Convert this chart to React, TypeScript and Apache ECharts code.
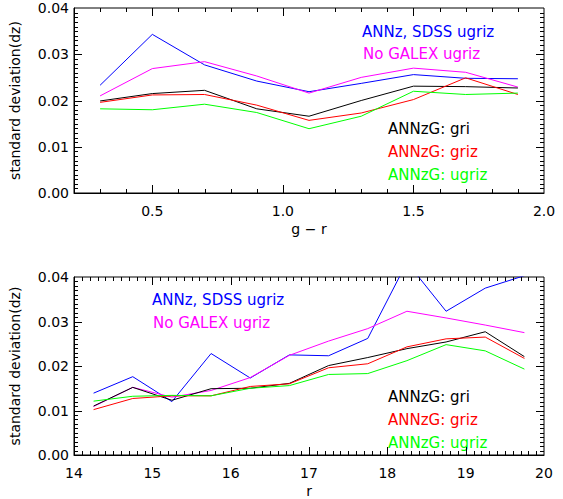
import React, { useEffect, useRef } from "react";
import * as echarts from "echarts";

// ---- Data ----
const grX = [0.3, 0.5, 0.7, 0.9, 1.1, 1.3, 1.5, 1.7, 1.9];
const grSdss = [0.0233, 0.0343, 0.0277, 0.0242, 0.0219, 0.0237, 0.0256, 0.0248, 0.0247];
const grNoGalex = [0.021, 0.0269, 0.0284, 0.0253, 0.0216, 0.025, 0.027, 0.0261, 0.0229];
const grGri = [0.0199, 0.0215, 0.0222, 0.0182, 0.0166, 0.02, 0.0231, 0.023, 0.0227];
const grGriz = [0.0196, 0.0212, 0.0213, 0.019, 0.0157, 0.0173, 0.0202, 0.0249, 0.0213];
const grUgriz = [0.0182, 0.018, 0.0192, 0.0174, 0.0139, 0.0166, 0.022, 0.0213, 0.0216];

const rX = [14.25, 14.75, 15.25, 15.75, 16.25, 16.75, 17.25, 17.75, 18.25, 18.75, 19.25, 19.75];
const rSdss = [0.0139, 0.0176, 0.012, 0.0228, 0.0173, 0.0225, 0.0223, 0.0262, 0.0433, 0.0323, 0.0375, 0.0403];
const rNoGalex = [0.0109, 0.0152, 0.013, 0.0145, 0.0174, 0.0224, 0.0256, 0.0284, 0.0323, 0.0308, 0.0292, 0.0275];
const rGri = [0.011, 0.0152, 0.0123, 0.0149, 0.015, 0.0161, 0.0201, 0.0219, 0.0239, 0.0254, 0.0277, 0.0221];
const rGriz = [0.0102, 0.0127, 0.0133, 0.0133, 0.0154, 0.016, 0.0196, 0.0205, 0.0243, 0.0261, 0.0265, 0.0217];
const rUgriz = [0.0121, 0.0132, 0.0134, 0.0133, 0.015, 0.0156, 0.0181, 0.0183, 0.0212, 0.0248, 0.0234, 0.0193];

const seriesNames = ["ANNz, SDSS ugriz", "No GALEX ugriz", "ANNzG: gri", "ANNzG: griz", "ANNzG: ugriz"];
const seriesColors = ["#0000ff", "#ff00ff", "#000000", "#ff0000", "#00ff00"];
const yTitle = "standard deviation(dz)";
const xTitles = ["g \u2212 r", "r"];

// axis ranges and tick steps: [min, max, minorStep, majorEvery]
const grAxis = [0.2, 2.0, 0.1, 5];
const rAxis = [14, 20, 0.1, 10];
const yRange = [0, 0.04, 0.001, 10];

const FONT = "DejaVu Sans";
const GRID_LEFT = 74;
const GRID_RIGHT = 19;
const GRID_H = 185;
const GRID_TOPS = [8, 277];
const W = 563;
const H = 499;

function makeTicks(spec: number[], major: boolean) {
  const [min, max, step, every] = spec;
  const n0 = Math.ceil(min / step - 1e-9);
  const n1 = Math.floor(max / step + 1e-9);
  const out: number[] = [];
  for (let k = n0; k <= n1; k++) {
    const v = +(k * step).toFixed(6);
    if (v <= min + 1e-9 || v >= max - 1e-9) continue;
    if ((k % every === 0) === major) out.push(v);
  }
  return out;
}

export default function App() {
  const ref = useRef<HTMLDivElement>(null);
  useEffect(() => {
    if (!ref.current) return;
    const chart = echarts.init(ref.current, null, { renderer: "svg" });

    const txtStyle = { fontSize: 14, fontFamily: FONT, color: "#000" };
    const grFmt = (v: number) => (Math.abs(v * 2 - Math.round(v * 2)) < 1e-6 ? v.toFixed(1) : "");
    const rFmt = (v: number) => String(v);
    const yFmt = (v: number) => v.toFixed(2);

    const baseAxis = (gridIndex: number, position: string, extra: any, formatter: any, name: string, nameGap: number, margin: number) => ({
      type: "value",
      gridIndex,
      position,
      ...extra,
      axisLine: { show: true, lineStyle: { color: "#000", width: 1 } },
      splitLine: { show: false },
      axisTick: { show: false },
      minorTick: { show: false },
      axisLabel: { show: true, margin, ...txtStyle, formatter },
      name,
      nameLocation: "middle",
      nameGap,
      nameTextStyle: txtStyle,
    });

    const grScale = { min: grAxis[0], max: grAxis[1], minInterval: 0.5, maxInterval: 0.5, splitNumber: 4 };
    const rScale = { min: rAxis[0], max: rAxis[1], interval: 1 };
    const yScale = { min: yRange[0], max: yRange[1], interval: 0.01 };

    const xAxis = [
      baseAxis(0, "bottom", grScale, grFmt, xTitles[0], 29, 11),
      baseAxis(1, "bottom", rScale, rFmt, xTitles[1], 29, 11),
    ];
    const yAxis = [
      baseAxis(0, "left", yScale, yFmt, yTitle, 52, 5),
      baseAxis(1, "left", yScale, yFmt, yTitle, 52, 5),
    ];

    const series: any[] = [];
    const addLines = (xs: number[], sets: number[][], idx: number) => {
      sets.forEach((vals, i) => {
        series.push({
          type: "line",
          name: seriesNames[i],
          xAxisIndex: idx,
          yAxisIndex: idx,
          data: xs.map((x, j) => [x, vals[j]]),
          showSymbol: false,
          symbol: "none",
          clip: true,
          lineStyle: { color: seriesColors[i], width: 1 },
          itemStyle: { color: seriesColors[i] },
          z: 2,
        });
      });
    };
    addLines(grX, [grSdss, grNoGalex, grGri, grGriz, grUgriz], 0);
    addLines(rX, [rSdss, rNoGalex, rGri, rGriz, rUgriz], 1);

    const txt = (s: string, x: number, y: number, color: string) => ({
      type: "text",
      x,
      y,
      z: 50,
      style: {
        text: s,
        fill: color,
        fontSize: 15,
        fontFamily: FONT,
        align: "left",
        verticalAlign: "middle",
      },
    });

    const texts = [
      txt(seriesNames[0], 362, 32, seriesColors[0]),
      txt(seriesNames[1], 363, 54, seriesColors[1]),
      txt(seriesNames[2], 388, 129, seriesColors[2]),
      txt(seriesNames[3], 388, 152, seriesColors[3]),
      txt(seriesNames[4], 388, 175, seriesColors[4]),
      txt(seriesNames[0], 152, 300, seriesColors[0]),
      txt(seriesNames[1], 153, 323, seriesColors[1]),
      txt(seriesNames[2], 388, 397, seriesColors[2]),
      txt(seriesNames[3], 388, 420, seriesColors[3]),
      txt(seriesNames[4], 388, 443, seriesColors[4]),
    ];

    chart.setOption({
      animation: false,
      backgroundColor: "#ffffff",
      grid: GRID_TOPS.map((top) => ({
        left: GRID_LEFT,
        right: GRID_RIGHT,
        top,
        height: GRID_H,
        show: true,
        borderColor: "#000",
        borderWidth: 1,
        backgroundColor: "transparent",
      })),
      xAxis,
      yAxis,
      series,
      graphic: texts,
    });

    // inward tick marks on all four sides of each box, as small filled rects
    const ticks: any[] = [];
    const addTicks = (idx: number, xSpec: number[], ySpec: number[]) => {
      const gw = W - GRID_LEFT - GRID_RIGHT;
      const top = GRID_TOPS[idx];
      const fallback = (x: number, y: number) => [
        GRID_LEFT + ((x - xSpec[0]) / (xSpec[1] - xSpec[0])) * gw,
        top + GRID_H - ((y - ySpec[0]) / (ySpec[1] - ySpec[0])) * GRID_H,
      ];
      const toPx = (x: number, y: number) => {
        let p: any = null;
        try {
          p = chart.convertToPixel({ xAxisIndex: idx, yAxisIndex: idx } as any, [x, y]);
        } catch (e) {
          p = null;
        }
        if (!p || !isFinite(p[0]) || !isFinite(p[1])) p = fallback(x, y);
        return p as number[];
      };
      const b0 = toPx(xSpec[0], ySpec[0]);
      const t1 = toPx(xSpec[1], ySpec[1]);
      const left = Math.round(b0[0]);
      const bottom = Math.round(b0[1]);
      const right = Math.round(t1[0]);
      const topY = Math.round(t1[1]);
      [true, false].forEach((major) => {
        const len = major ? 8 : 4;
        makeTicks(xSpec, major).forEach((v) => {
          const px = Math.round(toPx(v, ySpec[0])[0]);
          ticks.push({ type: "rect", silent: true, z: 60, shape: { x: px, y: bottom - len, width: 1, height: len }, style: { fill: "#000" } });
          ticks.push({ type: "rect", silent: true, z: 60, shape: { x: px, y: topY, width: 1, height: len }, style: { fill: "#000" } });
        });
        makeTicks(ySpec, major).forEach((v) => {
          const py = Math.round(toPx(xSpec[0], v)[1]);
          ticks.push({ type: "rect", silent: true, z: 60, shape: { x: left, y: py, width: len, height: 1 }, style: { fill: "#000" } });
          ticks.push({ type: "rect", silent: true, z: 60, shape: { x: right - len, y: py, width: len, height: 1 }, style: { fill: "#000" } });
        });
      });
    };
    addTicks(0, grAxis, yRange);
    addTicks(1, rAxis, yRange);
    chart.setOption({ graphic: [...texts, ...ticks] });

    return () => chart.dispose();
  }, []);

  return (
    <div
      ref={ref}
      style={{ position: "fixed", left: 0, top: 0, width: W, height: H, background: "#fff" }}
    />
  );
}
